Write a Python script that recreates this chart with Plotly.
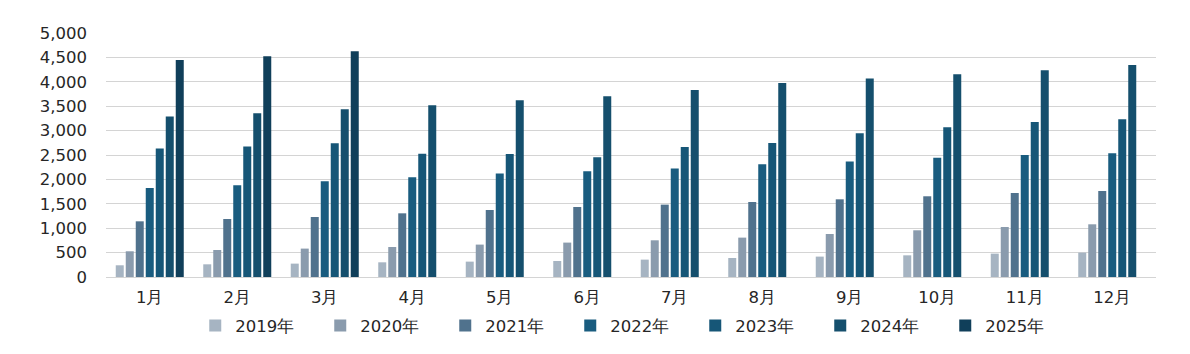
import plotly.graph_objects as go

months = ["1月", "2月", "3月", "4月", "5月", "6月", "7月", "8月", "9月", "10月", "11月", "12月"]
years = ["2019年", "2020年", "2021年", "2022年", "2023年", "2024年", "2025年"]

v2019 = [240, 260, 274, 301, 315, 328, 356, 389, 418, 444, 479, 500]
v2020 = [527, 553, 582, 615, 664, 705, 752, 807, 881, 957, 1025, 1080]
v2021 = [1141, 1189, 1230, 1305, 1373, 1435, 1483, 1537, 1592, 1654, 1722, 1763]
v2022 = [1824, 1879, 1961, 2043, 2119, 2166, 2221, 2309, 2365, 2446, 2500, 2535]
v2023 = [2631, 2672, 2740, 2528, 2521, 2453, 2664, 2746, 2945, 3068, 3177, 3232]
v2024 = [3287, 3355, 3436, 3518, 3621, 3703, 3832, 3975, 4066, 4154, 4236, 4344]
v2025 = [4447, 4523, 4625, None, None, None, None, None, None, None, None, None]

series = [v2019, v2020, v2021, v2022, v2023, v2024, v2025]
colors = ["#A6B4C2", "#8A9BAD", "#50728D", "#195C7F", "#165677", "#154F6D", "#103F5A"]

FONT = "DejaVu Sans"
fig = go.Figure()
for name, vals, c in zip(years, series, colors):
    fig.add_trace(go.Bar(x=months, y=vals, name=name, marker=dict(color=c, line=dict(width=0))))

fig.update_layout(
    width=1190, height=354,
    margin=dict(l=106, r=34, t=33, b=77, autoexpand=False),
    paper_bgcolor="white", plot_bgcolor="white",
    barmode="group", bargap=0.2, bargroupgap=0.2,
    font=dict(family=FONT, size=16.5, color="#262626"),
    showlegend=True,
    legend=dict(orientation="h", x=0.085, xanchor="left", y=-0.2, yanchor="middle",
                entrywidth=80, entrywidthmode="pixels", font=dict(size=16.5, color="#262626"),
                traceorder="normal", itemclick=False),
)
fig.update_yaxes(range=[0, 5000], dtick=500, tickformat=",", showgrid=True,
                 gridcolor="#D4D4D4", gridwidth=1.4, zeroline=True, zerolinecolor="#D4D4D4",
                 zerolinewidth=1.4, showline=False, ticklabelstandoff=18, fixedrange=True)
fig.update_xaxes(showgrid=False, showline=False, ticks="", ticklabelstandoff=8, fixedrange=True)

fig.write_html("out.html", config={"displayModeBar": False})
